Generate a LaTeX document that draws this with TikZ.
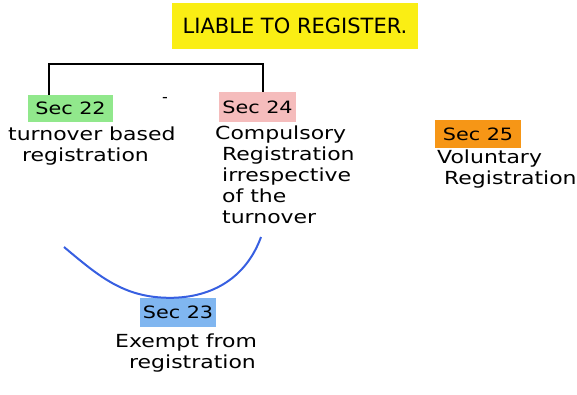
\documentclass[tikz,border=0pt]{standalone}
\usepackage{fontspec}
\setmainfont{DejaVu Sans}
\newfontfamily\hand[FakeStretch=1.22]{DejaVu Sans}
\usetikzlibrary{positioning}
\definecolor{hilite}{RGB}{250,238,20}
\definecolor{secgreen}{RGB}{145,232,140}
\definecolor{secpink}{RGB}{245,188,188}
\definecolor{secorange}{RGB}{246,150,22}
\definecolor{secblue}{RGB}{128,182,240}
\definecolor{arcblue}{RGB}{55,95,225}
\tikzset{
  sec/.style={inner sep=0pt,font=\hand\fontsize{17}{19}\selectfont},
  note/.style={anchor=north west,align=left,inner sep=0pt,font=\hand\fontsize{18}{21}\selectfont},
  link/.style={line width=2pt},
}

\begin{document}
\begin{tikzpicture}[x=1pt,y=-1pt]
  \useasboundingbox (0,0) rectangle (577,394);
  \node[fill=hilite,minimum width=246pt,minimum height=46pt,inner sep=0pt,font=\fontsize{21}{23}\selectfont] (title) at (295,26) {LIABLE TO REGISTER.};
  \node[sec,fill=secgreen,minimum width=85pt,minimum height=27pt] (s22) at (70.5,108.5) {Sec 22};
  \node[sec,fill=secpink,minimum width=77pt,minimum height=30pt] (s24) at (257.5,107) {Sec 24};
  \node[sec,fill=secorange,minimum width=86pt,minimum height=28pt] (s25) at (478,134) {Sec 25};
  \node[sec,fill=secblue,minimum width=76pt,minimum height=29pt] (s23) at (178,312.5) {Sec 23};
  \node[inner sep=0pt,font=\fontsize{16}{18}\selectfont] (dash) at (165,100) {-};
  \node[note] (t22) at (8,127) {turnover based\\\ \ registration};
  \node[note] (t24) at (215,126) {Compulsory\\\ Registration\\\ irrespective\\\ of the\\\ turnover};
  \node[note] (t25) at (437,150) {Voluntary\\\ Registration};
  \node[note] (t23) at (115,334) {Exempt from\\\ \ registration};
  \coordinate (top) at (155,64);
  \coordinate (arcl) at (64,247);
  \coordinate (arcr) at (261,237);
  % bracket joining the two sections
  \draw[link] ([xshift=-22pt]s22.north) |- (top) -| ([xshift=5pt]s24.north);
  % exemption arc
  \draw[link,arcblue] (arcl) to[out=-40,in=180] ([xshift=-8pt]s23.north) to[out=0,in=-110] (arcr);
\end{tikzpicture}
\end{document}
